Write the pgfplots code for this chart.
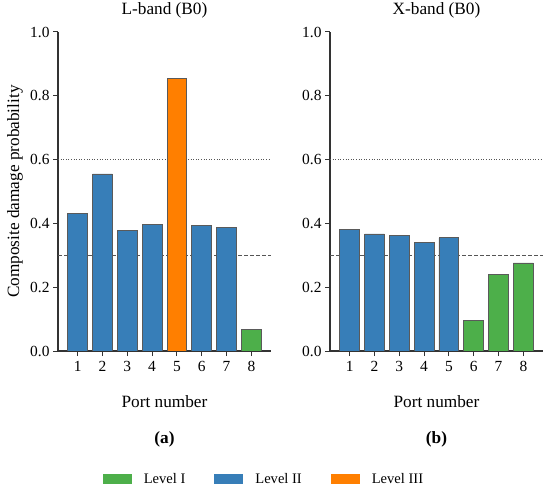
\documentclass[border=0pt]{standalone}
\usepackage{fontspec}
\setmainfont{Liberation Serif}
\usepackage{pgfplots}
\pgfplotsset{compat=1.18}
\definecolor{lvA}{HTML}{4DAF4A}
\definecolor{lvB}{HTML}{377EB8}
\definecolor{lvC}{HTML}{FF7F00}
\definecolor{edgec}{HTML}{5A5A5A}
\definecolor{spine}{HTML}{333333}
\definecolor{refc}{HTML}{555555}
\pgfplotsset{
  panel/.style={
    scale only axis, width=213bp, height=319bp,
    xmin=0.21, xmax=8.79, ymin=0, ymax=1,
    clip mode=individual,
    axis x line*=bottom, axis y line*=left,
    axis line style={spine, line width=1.1bp, -},
    tick align=outside, major tick length=5bp,
    tick style={spine, line width=1bp},
    xtick={1,2,3,4,5,6,7,8}, ytick={0,0.2,0.4,0.6,0.8,1},
    y tick label style={/pgf/number format/fixed, /pgf/number format/fixed zerofill, /pgf/number format/precision=1},
    x tick label style={yshift=-2bp},
    /pgf/number format/assume math mode=true,
    tick label style={font=\fontsize{15.5}{18}\selectfont},
    title style={at={(axis description cs:0.5,1.050)}, anchor=center, font=\fontsize{17.3}{20}\selectfont},
    xlabel style={at={(axis description cs:0.5,-0.160)}, anchor=center, font=\fontsize{17.3}{20}\selectfont},
    ylabel style={at={(axis description cs:-0.202,0.5)}, anchor=center, font=\fontsize{17.3}{20}\selectfont},
    xlabel={Port number},
  },
  bars/.style={ybar, bar width=0.8, bar shift=0pt, draw=edgec, line width=0.8bp, forget plot},
  dotref/.style={refc, line width=0.9bp, dash pattern=on 1bp off 1.6bp, forget plot},
  dashref/.style={refc, line width=0.9bp, dash pattern=on 4bp off 2bp, forget plot},
}
\begin{document}
\begin{tikzpicture}
\useasboundingbox (0,0) rectangle (550bp,496bp);
\begin{axis}[panel, at={(58bp,145bp)}, anchor=south west,
  title={L-band (B0)}, ylabel={Composite damage probability},
  legend image code/.code={\fill[#1, draw=none] (0bp,-5bp) rectangle (29bp,5bp);},
  legend columns=3,
  legend style={at={(axis description cs:0.967,-0.401)}, anchor=center, draw=none, fill=none,
    font=\fontsize{14.6}{17}\selectfont,
    /tikz/every even column/.append style={column sep=27bp},
    /tikz/every odd column/.append style={column sep=10bp}},
]
\addplot[dotref] coordinates {(0.21,0.6) (8.79,0.6)};
\addplot[dashref] coordinates {(0.21,0.3) (8.79,0.3)};
\addplot[bars, fill=lvB] coordinates {(1,0.430) (2,0.555) (3,0.378) (4,0.398) (6,0.393) (7,0.387)};
\addplot[bars, fill=lvC] coordinates {(5,0.855)};
\addplot[bars, fill=lvA] coordinates {(8,0.068)};
\addlegendimage{fill=lvA, draw=none}
\addlegendentry{Level I}
\addlegendimage{fill=lvB, draw=none}
\addlegendentry{Level II}
\addlegendimage{fill=lvC, draw=none}
\addlegendentry{Level III}
\node[font=\bfseries\fontsize{17.3}{20}\selectfont] at (axis description cs:0.5,-0.276) {(a)};
\end{axis}
\begin{axis}[panel, at={(330bp,145bp)}, anchor=south west,
  title={X-band (B0)},
]
\addplot[dotref] coordinates {(0.21,0.6) (8.79,0.6)};
\addplot[dashref] coordinates {(0.21,0.3) (8.79,0.3)};
\addplot[bars, fill=lvB] coordinates {(1,0.380) (2,0.367) (3,0.363) (4,0.339) (5,0.355)};
\addplot[bars, fill=lvA] coordinates {(6,0.096) (7,0.241) (8,0.276)};
\node[font=\bfseries\fontsize{17.3}{20}\selectfont] at (axis description cs:0.5,-0.276) {(b)};
\end{axis}
\end{tikzpicture}
\end{document}
